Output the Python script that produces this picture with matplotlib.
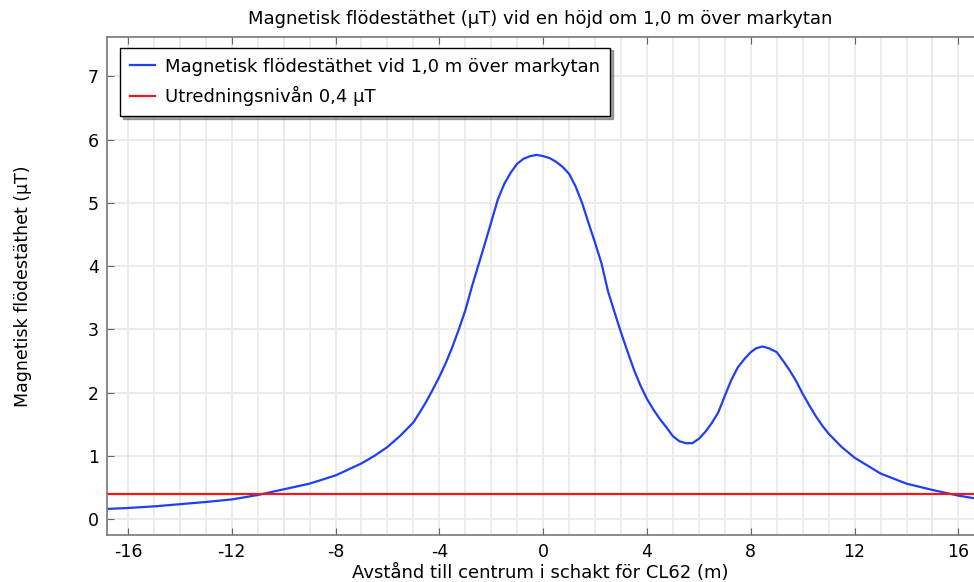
import matplotlib
matplotlib.use("Agg")
from matplotlib import pyplot as plt
from matplotlib.ticker import MultipleLocator

# values
dist = [-16.8, -16, -15, -14, -13, -12, -11, -10, -9, -8, -7, -6.5, -6, -5.5,
        -5, -4.75, -4.5, -4.25, -4, -3.75, -3.5, -3.25, -3, -2.75, -2.5, -2.25,
        -2, -1.75, -1.5, -1.25, -1, -0.75, -0.5, -0.25, 0, 0.25, 0.5, 0.75, 1,
        1.25, 1.5, 1.75, 2, 2.25, 2.5, 2.75, 3, 3.25, 3.5, 3.75, 4, 4.25, 4.5,
        4.75, 5, 5.25, 5.5, 5.75, 6, 6.25, 6.5, 6.75, 7, 7.25, 7.5, 7.75, 8,
        8.2, 8.45, 8.7, 9, 9.25, 9.5, 9.75, 10, 10.25, 10.5, 10.75, 11, 11.5,
        12, 13, 14, 15, 16, 16.6]
flux = [0.16, 0.175, 0.20, 0.235, 0.27, 0.31, 0.38, 0.47, 0.56, 0.69, 0.88,
        1.0, 1.14, 1.32, 1.53, 1.69, 1.86, 2.05, 2.25, 2.47, 2.72, 3.0, 3.3,
        3.67, 4.01, 4.35, 4.7, 5.05, 5.30, 5.48, 5.62, 5.70, 5.74, 5.76, 5.74,
        5.71, 5.65, 5.57, 5.46, 5.26, 5.00, 4.68, 4.37, 4.04, 3.60, 3.27, 2.95,
        2.65, 2.36, 2.11, 1.90, 1.73, 1.58, 1.45, 1.31, 1.23, 1.20, 1.20, 1.27,
        1.38, 1.52, 1.69, 1.95, 2.20, 2.40, 2.53, 2.64, 2.70, 2.73, 2.70, 2.64,
        2.50, 2.35, 2.18, 1.98, 1.80, 1.63, 1.48, 1.35, 1.14, 0.97, 0.72, 0.56,
        0.46, 0.37, 0.33]
limit = 0.4

title = "Magnetisk flödestäthet (µT) vid en höjd om 1,0 m över markytan"
xlabel = "Avstånd till centrum i schakt för CL62 (m)"
ylabel = "Magnetisk flödestäthet (µT)"
label_flux = "Magnetisk flödestäthet vid 1,0 m över markytan"
label_limit = "Utredningsnivån 0,4 µT"

plt.rcParams['font.family'] = ['DejaVu Sans']
plt.rcParams['axes.unicode_minus'] = False

fig = plt.figure(figsize=(9.74, 5.82), dpi=100)
ax = fig.add_axes([0.110, 0.081, 0.890, 0.856])

ax.plot(dist, flux, color="#1f3ff5", lw=1.6, label=label_flux)
ax.axhline(limit, color="#f01818", lw=1.6, label=label_limit)

ax.set_xlim(-16.8, 16.6)
ax.set_ylim(-0.25, 7.63)
ax.xaxis.set_major_locator(MultipleLocator(4))
ax.xaxis.set_minor_locator(MultipleLocator(1))
ax.yaxis.set_major_locator(MultipleLocator(1))

ax.grid(True, which="major", color="#e8e8e8", lw=1.2)
ax.grid(True, which="minor", axis="x", color="#e8e8e8", lw=1.2)
ax.set_axisbelow(True)
ax.tick_params(which="major", direction="in", length=5, color="#666666",
               top=True, right=False, labelsize=12.5, pad=6)
ax.tick_params(which="minor", length=0)

for side in ["left", "bottom", "top"]:
    ax.spines[side].set_color("#777777")
    ax.spines[side].set_linewidth(1.2)
ax.spines["right"].set_visible(False)

ax.set_title(title, fontsize=13, pad=9)
ax.set_xlabel(xlabel, fontsize=13, labelpad=2)
ax.set_ylabel(ylabel, fontsize=12.5, labelpad=40)

leg = ax.legend(loc="upper left", bbox_to_anchor=(0.015, 0.978), fontsize=13,
                fancybox=False, shadow=True, framealpha=1, edgecolor="black",
                handlelength=1.4, handletextpad=0.55, borderpad=0.55,
                labelspacing=0.6, borderaxespad=0)
leg.get_frame().set_linewidth(1.0)

fig.savefig("out.png", dpi=100)
